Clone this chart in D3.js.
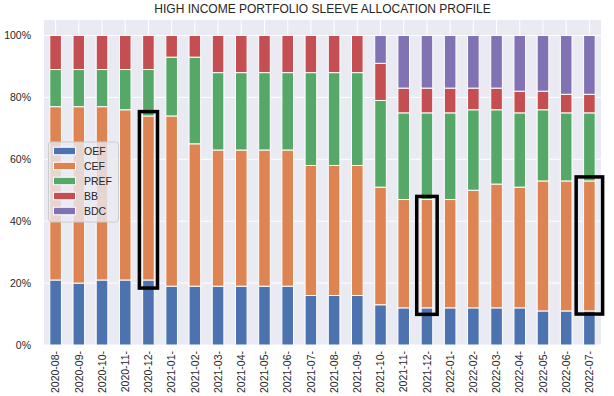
<!DOCTYPE html>
<html>
<head>
<meta charset="utf-8">
<script src="https://cdn.jsdelivr.net/npm/d3@7/dist/d3.min.js"></script>
<style>
  body { margin: 0; background: #fff; }
  text { font-family: "Liberation Sans", Arial, sans-serif; fill: #262626; }
</style>
</head>
<body>
<div id="chart"></div>
<script>
// months shown on the x axis
var months = ['2020-08', '2020-09', '2020-10', '2020-11', '2020-12',
  '2021-01', '2021-02', '2021-03', '2021-04', '2021-05', '2021-06', '2021-07',
  '2021-08', '2021-09', '2021-10', '2021-11', '2021-12',
  '2022-01', '2022-02', '2022-03', '2022-04', '2022-05', '2022-06', '2022-07'];

// sleeve weights, percent
var OEF  = [21, 20, 21, 21, 21, 19, 19, 19, 19, 19, 19, 16, 16, 16, 13, 12, 12, 12, 12, 12, 12, 11, 11, 11];
var CEF  = [56, 57, 56, 55, 53, 55, 46, 44, 44, 44, 44, 42, 42, 42, 38, 35, 35, 35, 38, 40, 39, 42, 42, 42];
var PREF = [12, 12, 12, 13, 15, 19, 28, 25, 25, 25, 25, 30, 30, 30, 28, 28, 28, 28, 26, 24, 24, 23, 22, 22];
var BB   = [11, 11, 11, 11, 11,  7,  7, 12, 12, 12, 12, 12, 12, 12, 12,  8,  8,  8,  7,  7,  7,  6,  6,  6];
var BDC  = [ 0,  0,  0,  0,  0,  0,  0,  0,  0,  0,  0,  0,  0,  0,  9, 17, 17, 17, 17, 17, 18, 18, 19, 19];

var sleeves = ['OEF', 'CEF', 'PREF', 'BB', 'BDC'];
var colors = ['#4C72B0', '#DD8452', '#55A868', '#C44E52', '#8172B3'];
var yTicks = [0, 0.2, 0.4, 0.6, 0.8, 1.0];

// hand drawn highlight boxes: month, low / high share, box width in bar slots
var highlights = [
  {month: '2020-12', lo: 0.184, hi: 0.754, span: 0.78},
  {month: '2021-12', lo: 0.099, hi: 0.480, span: 0.88},
  {month: '2022-07', lo: 0.100, hi: 0.543, span: 1.14}
];

var series = {OEF: OEF, CEF: CEF, PREF: PREF, BB: BB, BDC: BDC};
var rows = months.map(function(m, i) {
  var row = {month: m};
  sleeves.forEach(function(s) { row[s] = series[s][i] / 100; });
  return row;
});

var w = 614, h = 396;
var plotL = 44, plotR = 601, plotT = 20, plotB = 345;

var svg = d3.select('#chart')
            .append('svg')
            .attr('width', w)
            .attr('height', h);

var x = d3.scaleBand()
  .domain(months)
  .range([plotL, plotR])
  .paddingInner(0.5)
  .paddingOuter(0.25);
var step = x.step();

var y = d3.scaleLinear()
  .domain([0, 1.05])
  .range([plotB, plotT]);

var color = d3.scaleOrdinal().domain(sleeves).range(colors);

// background + grid
svg.append('rect')
  .attr('x', plotL)
  .attr('y', plotT)
  .attr('width', plotR - plotL)
  .attr('height', plotB - plotT)
  .attr('fill', '#EAEAF2');

svg.append('g')
  .selectAll('line')
  .data(yTicks)
  .enter()
  .append('line')
  .attr('x1', plotL)
  .attr('x2', plotR)
  .attr('y1', function(d) { return y(d); })
  .attr('y2', function(d) { return y(d); })
  .attr('stroke', '#fff')
  .attr('stroke-width', 1);

svg.append('g')
  .selectAll('line')
  .data(months)
  .enter()
  .append('line')
  .attr('x1', function(d) { return x(d) + x.bandwidth() / 2; })
  .attr('x2', function(d) { return x(d) + x.bandwidth() / 2; })
  .attr('y1', plotT)
  .attr('y2', plotB)
  .attr('stroke', '#fff')
  .attr('stroke-width', 1);

// stacked bars
var stacked = d3.stack().keys(sleeves)(rows);

svg.append('g')
  .selectAll('g')
  .data(stacked)
  .enter()
  .append('g')
  .attr('fill', function(d) { return color(d.key); })
  .selectAll('rect')
  .data(function(d) { return d.filter(function(p) { return p[1] - p[0] > 0; }); })
  .enter()
  .append('rect')
  .attr('x', function(d) { return x(d.data.month); })
  .attr('y', function(d) { return y(d[1]); })
  .attr('width', x.bandwidth())
  .attr('height', function(d) { return y(d[0]) - y(d[1]); })
  .attr('stroke', '#fff')
  .attr('stroke-width', 1);

// y axis labels
svg.append('g')
  .selectAll('text')
  .data(yTicks)
  .enter()
  .append('text')
  .text(d3.format('.0%'))
  .attr('x', 31)
  .attr('y', function(d) { return y(d); })
  .attr('dy', '0.35em')
  .attr('text-anchor', 'end')
  .attr('font-size', '10.5px');

// x axis labels, rotated
svg.append('g')
  .selectAll('text')
  .data(months)
  .enter()
  .append('text')
  .text(function(d) { return d + '-'; })
  .attr('transform', function(d) {
    return 'translate(' + (x(d) + x.bandwidth() / 2) + ',351) rotate(-90)';
  })
  .attr('dy', '0.35em')
  .attr('text-anchor', 'end')
  .attr('font-size', '10.5px');

// title
svg.append('text')
  .text('HIGH INCOME PORTFOLIO SLEEVE ALLOCATION PROFILE')
  .attr('x', (plotL + plotR) / 2)
  .attr('y', 13)
  .attr('text-anchor', 'middle')
  .attr('font-size', '12px');

// legend
var legend = svg.append('g');
legend.append('rect')
  .attr('x', 48.5)
  .attr('y', 142)
  .attr('width', 70)
  .attr('height', 80)
  .attr('rx', 3)
  .attr('fill', '#EAEAF2')
  .attr('fill-opacity', 0.8)
  .attr('stroke', '#cccccc')
  .attr('stroke-width', 1);

var items = legend.selectAll('g.item')
  .data(sleeves)
  .enter()
  .append('g')
  .attr('class', 'item')
  .attr('transform', function(d, i) { return 'translate(0,' + (151 + i * 15) + ')'; });

items.append('rect')
  .attr('x', 53.5)
  .attr('y', -3.75)
  .attr('width', 22)
  .attr('height', 7.5)
  .attr('fill', function(d) { return color(d); })
  .attr('stroke', '#fff')
  .attr('stroke-width', 1);

items.append('text')
  .text(function(d) { return d; })
  .attr('x', 84)
  .attr('dy', '0.35em')
  .attr('font-size', '10.5px');

// highlight boxes
svg.append('g')
  .selectAll('rect')
  .data(highlights)
  .enter()
  .append('rect')
  .attr('x', function(d) { return x(d.month) + x.bandwidth() / 2 - d.span * step / 2; })
  .attr('y', function(d) { return y(d.hi); })
  .attr('width', function(d) { return d.span * step; })
  .attr('height', function(d) { return y(d.lo) - y(d.hi); })
  .attr('fill', 'none')
  .attr('stroke', '#000')
  .attr('stroke-width', 3.5);
</script>
</body>
</html>
